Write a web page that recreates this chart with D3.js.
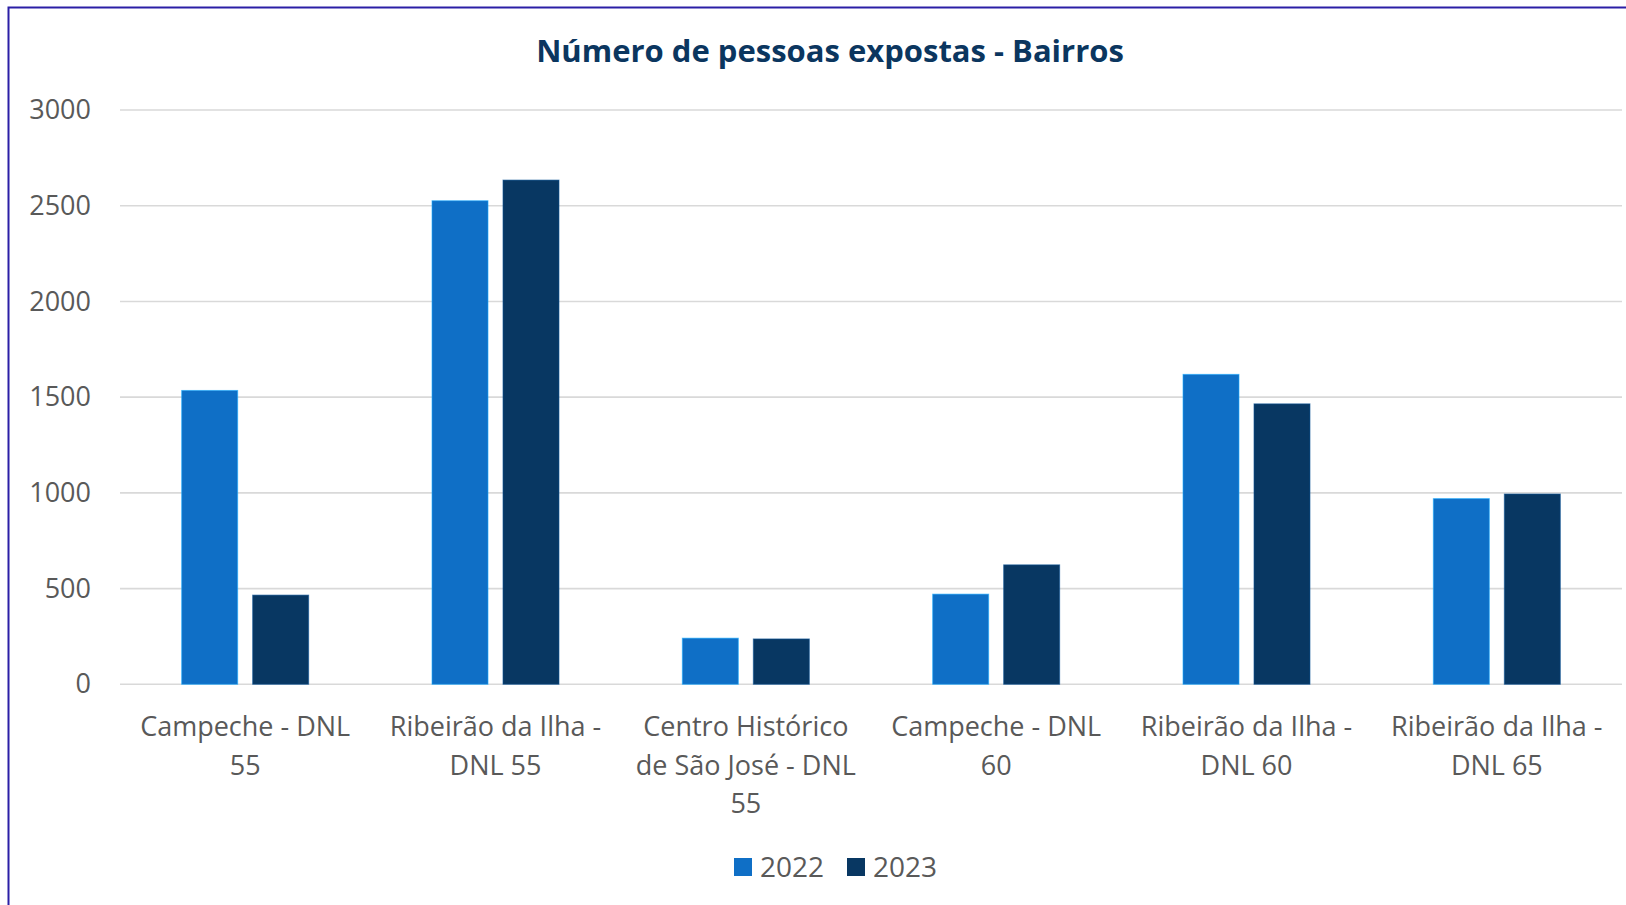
<!DOCTYPE html>
<html>
<head>
<meta charset="utf-8">
<script src="https://cdn.jsdelivr.net/npm/d3@7"></script>
<style>
  body { margin: 0; background: #fff; }
  svg { display: block; font-family: "Open Sans", "Noto Sans", sans-serif; }
</style>
</head>
<body>
<svg id="chart" width="1626" height="905"></svg>
<script>
  var categories = [
    "Campeche - DNL 55",
    "Ribeirão da Ilha - DNL 55",
    "Centro Histórico de São José - DNL 55",
    "Campeche - DNL 60",
    "Ribeirão da Ilha - DNL 60",
    "Ribeirão da Ilha - DNL 65"
  ];
  var seriesNames = ["2022", "2023"];
  var values2022 = [1535, 2526, 241, 471, 1619, 970];
  var values2023 = [466, 2634, 237, 624, 1465, 994];
  var yTicks = [0, 500, 1000, 1500, 2000, 2500, 3000];

  var colors = { "2022": "#0f6fc6", "2023": "#083762" };

  var svg = d3.select("#chart");
  var W = 1626, H = 905;
  var plot = { left: 120, right: 1622, top: 110, bottom: 684.3 };

  // frame of the chart area (only top / left edges are in view)
  svg.append("rect")
    .attr("x", 8.5).attr("y", 7.5)
    .attr("width", W + 20).attr("height", H + 20)
    .attr("fill", "#fff")
    .attr("stroke", "#2b1fa6")
    .attr("stroke-width", 2);

  var x0 = d3.scaleBand().domain(categories).range([plot.left, plot.right]);
  var groupW = 127;
  var x1 = d3.scaleBand().domain(seriesNames).range([0, groupW]).paddingInner(0.211);
  var y = d3.scaleLinear().domain([0, 3000]).range([plot.bottom, plot.top]);

  // gridlines
  svg.append("g")
    .selectAll("line")
    .data(yTicks)
    .enter()
    .append("line")
    .attr("x1", plot.left).attr("x2", plot.right)
    .attr("y1", (d) => y(d)).attr("y2", (d) => y(d))
    .attr("stroke", "#d9d9d9")
    .attr("stroke-width", 1.6);

  // y axis labels
  var yAxis = svg.append("g")
    .attr("transform", "translate(" + (plot.left - 29) + ",0)")
    .call(d3.axisLeft(y).tickValues(yTicks).tickFormat(d3.format("d")).tickSize(0).tickPadding(0));
  yAxis.select(".domain").remove();
  yAxis.selectAll("text")
    .attr("font-family", "Open Sans")
    .attr("font-size", 27)
    .attr("fill", "#595959");

  var series = [
    { name: "2022", values: values2022 },
    { name: "2023", values: values2023 }
  ];

  var offset = (x0.bandwidth() - groupW) / 2;
  series.forEach(function (s) {
    svg.append("g")
      .selectAll("rect")
      .data(s.values)
      .enter()
      .append("rect")
      .attr("x", (d, i) => x0(categories[i]) + offset + x1(s.name))
      .attr("y", (d) => y(d))
      .attr("width", x1.bandwidth())
      .attr("height", (d) => plot.bottom - y(d))
      .attr("fill", colors[s.name])
      .attr("stroke", d3.color(colors[s.name]).brighter(1.2))
      .attr("stroke-opacity", 0.6)
      .attr("stroke-width", 1);
  });

  // category labels, wrapped to the band width
  function wrap(text, width) {
    text.each(function (label) {
      var t = d3.select(this);
      var words = label.split(/\s+/);
      var lines = [];
      var line = [];
      var tspan = t.append("tspan");
      words.forEach(function (w) {
        line.push(w);
        tspan.text(line.join(" "));
        if (tspan.node().getComputedTextLength() > width && line.length > 1) {
          line.pop();
          lines.push(line.join(" "));
          line = [w];
        }
      });
      lines.push(line.join(" "));
      tspan.remove();
      lines.forEach(function (l, i) {
        t.append("tspan")
          .attr("x", t.attr("x"))
          .attr("dy", i == 0 ? 0 : 38.5)
          .text(l);
      });
    });
  }

  svg.append("g")
    .selectAll("text")
    .data(categories)
    .enter()
    .append("text")
    .attr("x", (d) => x0(d) + x0.bandwidth() / 2)
    .attr("y", 736)
    .attr("text-anchor", "middle")
    .attr("font-size", 27)
    .attr("fill", "#595959")
    .call(wrap, 240);

  // title
  svg.append("text")
    .attr("x", 830)
    .attr("y", 62)
    .attr("text-anchor", "middle")
    .attr("font-size", 31)
    .attr("font-weight", "bold")
    .attr("fill", "#0b365f")
    .text("Número de pessoas expostas - Bairros");

  // legend
  var legendX = [734, 847];
  var legend = svg.append("g")
    .selectAll("g")
    .data(seriesNames)
    .enter()
    .append("g")
    .attr("transform", (d, i) => "translate(" + legendX[i] + ",858)");
  legend.append("rect")
    .attr("width", 18).attr("height", 18)
    .attr("fill", (d) => colors[d]);
  legend.append("text")
    .attr("x", 26).attr("y", 18.5)
    .attr("font-size", 28)
    .attr("fill", "#595959")
    .text((d) => d);
</script>
</body>
</html>
